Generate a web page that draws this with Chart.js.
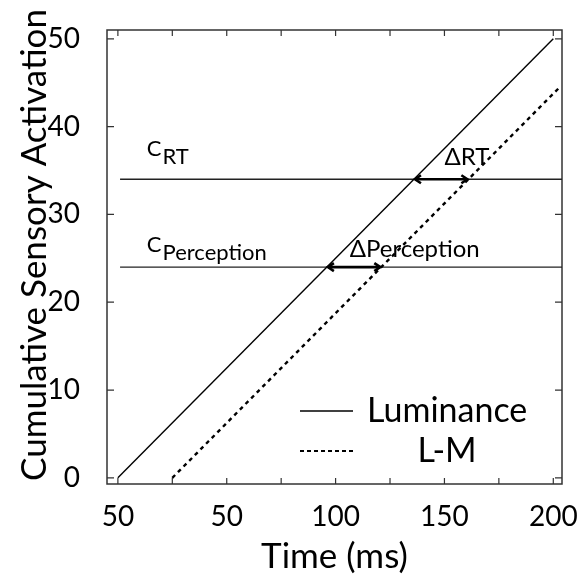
<!DOCTYPE html>
<html><head><meta charset="utf-8">
<script src="https://cdn.jsdelivr.net/npm/chart.js@4"></script>
<style>html,body{margin:0;padding:0;background:#fff}#wrap{width:580px;height:578px}</style>
</head><body><div id="wrap"><canvas id="c" width="580" height="578"></canvas></div>
<script>
// ---- data ----
const timeRange = [-5, 204];
const activationRange = [-0.7, 51];
const luminanceTime = [0, 200];
const luminanceActivation = [0, 50];
const lmTime = [25, 203];
const lmActivation = [0, 44.5];
const thresholdNames = ['RT', 'Perception'];
const thresholdLevels = [34, 24];
const thresholdStartTime = 1;
const deltaStartTime = [136, 96];
const deltaEndTime = [161, 121];
const xTickValues = [0, 50, 100, 150, 200];
const xTickLabels = ['50', '50', '100', '150', '200'];
const xMinorTicks = [0, 25, 50, 75, 100, 125, 150, 175, 200];
const yTickValues = [0, 10, 20, 30, 40, 50];
const yTickLabels = ['0', '10', '20', '30', '40', '50'];
const seriesNames = ['Luminance', 'L-M'];
const xTitle = 'Time (ms)';
const yTitle = 'Cumulative Sensory Activation';

// ---- annotation placement (data coords) ----
const cLabelPos = [{x: 13.3, y: 36.6}, {x: 13.3, y: 25.7}];
const deltaLabelPos = [{x: 150, y: 35.6}, {x: 106.5, y: 25.1}];

const FONT = 'Lato, "Open Sans", sans-serif';
const pts = (xs, ys) => xs.map((x, i) => ({x, y: ys[i]}));

const datasets = [
  {label: seriesNames[0], data: pts(luminanceTime, luminanceActivation), borderColor: '#000', borderWidth: 1.4},
  {label: seriesNames[1], data: pts(lmTime, lmActivation), borderColor: '#000', borderWidth: 2.4, borderDash: [4, 4]},
];
thresholdLevels.forEach((lvl, i) => {
  datasets.push({label: 'C ' + thresholdNames[i], data: pts([thresholdStartTime, timeRange[1]], [lvl, lvl]), borderColor: '#222', borderWidth: 1.4});
});
datasets.forEach(d => { d.showLine = true; d.pointRadius = 0; d.fill = false; });

const decor = {
  id: 'decor',
  beforeDatasetsDraw(chart) {
    const {ctx, chartArea: a, scales: {x, y}} = chart;
    ctx.save();
    ctx.strokeStyle = '#333';
    ctx.lineWidth = 1.5;
    ctx.strokeRect(a.left, a.top, a.right - a.left, a.bottom - a.top);
    ctx.lineWidth = 1.2;
    ctx.beginPath();
    xMinorTicks.forEach(v => {
      const px = x.getPixelForValue(v);
      ctx.moveTo(px, a.bottom); ctx.lineTo(px, a.bottom - 6);
      ctx.moveTo(px, a.top); ctx.lineTo(px, a.top + 6);
    });
    yTickValues.forEach(v => {
      const py = y.getPixelForValue(v);
      ctx.moveTo(a.left, py); ctx.lineTo(a.left + 7, py);
      ctx.moveTo(a.right, py); ctx.lineTo(a.right - 7, py);
    });
    ctx.stroke();
    // y title
    ctx.fillStyle = '#000';
    ctx.font = '35px ' + FONT;
    ctx.textAlign = 'center';
    ctx.textBaseline = 'middle';
    ctx.translate(35, (a.top + a.bottom) / 2 - 12);
    ctx.rotate(-Math.PI / 2);
    ctx.fillText(yTitle, 0, 0);
    ctx.restore();
  },
  afterDatasetsDraw(chart) {
    const {ctx, chartArea: a, scales: {x, y}} = chart;
    ctx.save();
    ctx.fillStyle = '#000';
    ctx.textBaseline = 'alphabetic';
    thresholdNames.forEach((n, i) => {
      const px = x.getPixelForValue(cLabelPos[i].x), py = y.getPixelForValue(cLabelPos[i].y);
      ctx.font = '22px ' + FONT;
      ctx.fillText('C', px, py);
      const w = ctx.measureText('C').width;
      ctx.fillText(n, px + w + 1, py + 8);
    });
    thresholdNames.forEach((n, i) => {
      const px = x.getPixelForValue(deltaLabelPos[i].x), py = y.getPixelForValue(deltaLabelPos[i].y);
      ctx.font = '24px ' + FONT;
      ctx.fillText('\u0394' + n, px, py);
    });
    ctx.strokeStyle = '#000';
    ctx.lineWidth = 2.6;
    thresholdLevels.forEach((lvl, i) => {
      const x1 = x.getPixelForValue(deltaStartTime[i]), x2 = x.getPixelForValue(deltaEndTime[i]);
      const py = y.getPixelForValue(lvl);
      ctx.beginPath();
      ctx.moveTo(x1 + 1, py); ctx.lineTo(x2 - 1, py);
      ctx.stroke();
      ctx.beginPath();
      ctx.moveTo(x1 + 7, py - 4); ctx.lineTo(x1 + 1, py); ctx.lineTo(x1 + 7, py + 4);
      ctx.moveTo(x2 - 7, py - 4); ctx.lineTo(x2 - 1, py); ctx.lineTo(x2 - 7, py + 4);
      ctx.stroke();
    });
    // legend
    const lx1 = a.left + 193, lx2 = a.left + 246;
    const ly = [a.bottom - 73, a.bottom - 33];
    ctx.lineWidth = 1.4;
    ctx.beginPath(); ctx.moveTo(lx1, ly[0]); ctx.lineTo(lx2, ly[0]); ctx.stroke();
    ctx.lineWidth = 2.2;
    ctx.setLineDash([4, 3]);
    ctx.beginPath(); ctx.moveTo(lx1, ly[1]); ctx.lineTo(lx2, ly[1]); ctx.stroke();
    ctx.setLineDash([]);
    ctx.font = '34px ' + FONT;
    ctx.textBaseline = 'middle';
    ctx.textAlign = 'left';
    ctx.fillText(seriesNames[0], a.left + 260, ly[0]);
    ctx.textAlign = 'center';
    ctx.fillText(seriesNames[1], a.left + 340, ly[1]);
    ctx.restore();
  }
};

new Chart(document.getElementById('c'), {
  type: 'scatter',
  data: {datasets},
  plugins: [decor],
  options: {
    responsive: false,
    devicePixelRatio: 1,
    animation: false,
    layout: {padding: {top: 30, right: 18, left: 0, bottom: 0}},
    plugins: {legend: {display: false}, tooltip: {enabled: false}},
    scales: {
      x: {
        type: 'linear', min: timeRange[0], max: timeRange[1],
        afterBuildTicks: s => { s.ticks = xTickValues.map(v => ({value: v})); },
        afterFit: s => { s.height = 94; s.paddingLeft = 0; s.paddingRight = 0; },
        grid: {display: false}, border: {display: false},
        ticks: {color: '#000', font: {family: FONT, size: 28}, padding: 8, maxRotation: 0,
          callback: v => xTickLabels[xTickValues.indexOf(v)]},
        title: {display: true, text: xTitle, color: '#000', font: {family: FONT, size: 35}, padding: {top: 0, bottom: 0}}
      },
      y: {
        type: 'linear', min: activationRange[0], max: activationRange[1],
        afterBuildTicks: s => { s.ticks = yTickValues.map(v => ({value: v})); },
        afterFit: s => { s.width = 107; s.paddingTop = 0; s.paddingBottom = 0; },
        grid: {display: false}, border: {display: false},
        ticks: {color: '#000', font: {family: FONT, size: 28}, padding: 19,
          callback: v => yTickLabels[yTickValues.indexOf(v)]}
      }
    }
  }
});
</script></body></html>
